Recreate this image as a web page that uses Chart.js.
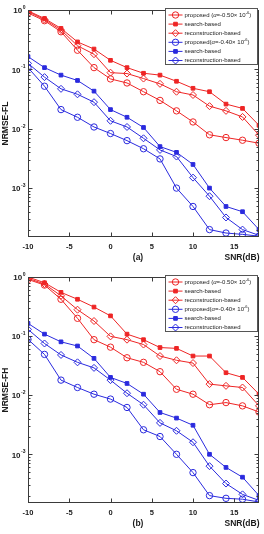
<!DOCTYPE html>
<html><head><meta charset="utf-8">
<script src="https://cdn.jsdelivr.net/npm/chart.js@4.4.0/dist/chart.umd.min.js"></script>
<style>
html,body{margin:0;padding:0;background:#fff;width:264px;height:534px;overflow:hidden}
canvas{position:absolute;left:0}
#c1{top:0}
#c2{top:267px}
</style></head><body>
<canvas id="c1" width="264" height="267"></canvas>
<canvas id="c2" width="264" height="266"></canvas>
<script>
// ---------- data ----------
const snr = [-10,-8,-6,-4,-2,0,2,4,6,8,10,12,14,16,18];
const xTickValues = [-10,-5,0,5,10,15];
const yDecades = [0,-1,-2,-3];

// (a) NRMSE-FL
const redProposedFL = [0.89,0.66,0.43,0.21,0.107,0.069,0.059,0.042,0.030,0.020,0.013,0.0079,0.0071,0.0064,0.0057];
const redSearchFL   = [0.97,0.72,0.49,0.29,0.22,0.142,0.107,0.086,0.080,0.063,0.048,0.042,0.026,0.022,0.0114];
const redReconFL    = [0.94,0.69,0.46,0.25,0.18,0.088,0.085,0.070,0.057,0.042,0.037,0.024,0.020,0.0158,0.0078];
const blueProposedFL = [0.107,0.052,0.021,0.0156,0.0107,0.0083,0.0063,0.0046,0.0031,0.0010,0.00049,0.00020,0.000175,0.000166,0.000155];
const blueSearchFL   = [0.164,0.107,0.080,0.065,0.043,0.021,0.0156,0.0105,0.0050,0.0040,0.0025,0.0010,0.00049,0.00040,0.00020];
const blueReconFL    = [0.126,0.074,0.047,0.038,0.028,0.0136,0.0107,0.0069,0.0044,0.0034,0.0015,0.00073,0.00032,0.00020,0.00016];

// (b) NRMSE-FH
const redProposedFH = [0.91,0.73,0.42,0.20,0.087,0.065,0.043,0.036,0.025,0.0126,0.0104,0.0069,0.0075,0.0066,0.0052];
const redSearchFH   = [1.0,0.80,0.55,0.42,0.31,0.22,0.108,0.087,0.064,0.062,0.046,0.046,0.024,0.020,0.0104];
const redReconFH    = [0.95,0.76,0.48,0.28,0.18,0.099,0.087,0.072,0.046,0.039,0.035,0.0154,0.0144,0.0135,0.0066];
const blueProposedFH = [0.088,0.049,0.018,0.0135,0.0104,0.0086,0.0062,0.0026,0.0020,0.0010,0.00049,0.00020,0.00018,0.000174,0.000156];
const blueSearchFH   = [0.164,0.108,0.080,0.068,0.042,0.020,0.0158,0.0104,0.0051,0.0041,0.0031,0.0010,0.00060,0.00041,0.00020];
const blueReconFH    = [0.13,0.075,0.048,0.036,0.029,0.018,0.0108,0.0069,0.0034,0.0025,0.0016,0.00063,0.00032,0.00021,0.000166];

const legendTexts = [
  ['proposed (', 'α', '=-0.50× 10', '-6', ')'],
  ['search-based'],
  ['reconstruction-based'],
  ['proposed(', 'α', '=-0.40× 10', '-6', ')'],
  ['search-based'],
  ['reconstruction-based']
];
const yTitles = ['NRMSE-FL', 'NRMSE-FH'];
const subTags = ['(a)', '(b)'];
const xTitle = 'SNR(dB)';

// ---------- styling ----------
const RED = '#ee2525';
const BLUE = '#2a2ade';
const FONT = '"Liberation Sans", Arial, sans-serif';
const markers = [
  {style:'circle', r:3.2, fill:false},
  {style:'rect', r:2.6, fill:true},
  {style:'rectRot', r:3.5, fill:false},
  {style:'circle', r:3.2, fill:false},
  {style:'rect', r:2.6, fill:true},
  {style:'rectRot', r:3.5, fill:false}
];

function makeDatasets(series) {
  return series.map((d, i) => {
    const col = i < 3 ? RED : BLUE;
    const m = markers[i];
    return {
      data: d,
      borderColor: col,
      backgroundColor: col,
      borderWidth: 1,
      pointStyle: m.style,
      pointRadius: m.r,
      pointBorderWidth: 1,
      pointBorderColor: col,
      pointBackgroundColor: m.fill ? col : 'rgba(0,0,0,0)',
      tension: 0,
      fill: false
    };
  });
}

function drawMarker(ctx, m, col, x, y) {
  ctx.save();
  ctx.strokeStyle = col; ctx.fillStyle = col; ctx.lineWidth = 1;
  ctx.beginPath();
  if (m.style === 'circle') {
    ctx.arc(x, y, m.r, 0, Math.PI*2);
  } else if (m.style === 'rect') {
    const s = Math.SQRT1_2 * m.r;
    ctx.rect(x - s, y - s, 2*s, 2*s);
  } else {
    ctx.moveTo(x, y - m.r); ctx.lineTo(x + m.r, y); ctx.lineTo(x, y + m.r); ctx.lineTo(x - m.r, y); ctx.closePath();
  }
  if (m.fill) ctx.fill();
  ctx.stroke();
  ctx.restore();
}

function decoPlugin(idx) {
  return {
    id: 'deco' + idx,
    afterDraw(chart) {
      const ctx = chart.ctx, a = chart.chartArea;
      const ys = chart.scales.y, xs = chart.scales.x;
      const L = Math.round(a.left) + 0.5, R = Math.round(a.right) - 0.5;
      const T = Math.round(a.top) + 0.5, B = Math.round(a.bottom) - 0.5;
      ctx.save();
      // frame and ticks
      ctx.strokeStyle = '#3a3a3a'; ctx.lineWidth = 1;
      ctx.strokeRect(L, T, R - L, B - T);
      ctx.beginPath();
      for (let e = -4; e <= 0; e++) {
        for (let m = 1; m < 10; m++) {
          const v = m * Math.pow(10, e);
          if (v < ys.min * 0.999 || v > ys.max * 1.001) continue;
          const y = Math.round(ys.getPixelForValue(v)) + 0.5;
          const len = m === 1 ? 4 : 2;
          ctx.moveTo(L, y); ctx.lineTo(L + len, y);
          ctx.moveTo(R, y); ctx.lineTo(R - len, y);
        }
      }
      for (const t of xTickValues) {
        const x = Math.round(xs.getPixelForValue(t)) + 0.5;
        ctx.moveTo(x, B); ctx.lineTo(x, B - 4);
        ctx.moveTo(x, T); ctx.lineTo(x, T + 4);
      }
      ctx.stroke();

      // y tick labels 10^k
      ctx.fillStyle = '#1a1a1a';
      for (const e of yDecades) {
        const y = ys.getPixelForValue(Math.pow(10, e));
        const sup = e === 0 ? '0' : '-' + (-e);
        ctx.font = 'bold 8px ' + FONT;
        const w10 = ctx.measureText('10').width;
        ctx.font = 'bold 5px ' + FONT;
        const ws = ctx.measureText(sup).width;
        const x0 = a.left - 3 - ws - w10;
        ctx.textBaseline = 'middle'; ctx.textAlign = 'left';
        ctx.font = 'bold 8px ' + FONT;
        ctx.fillText('10', x0, y + 1);
        ctx.font = 'bold 5px ' + FONT;
        ctx.fillText(sup, x0 + w10 + 0.5, y - 2.5);
      }

      // axis titles
      ctx.font = 'bold 8.5px ' + FONT;
      ctx.textAlign = 'center'; ctx.textBaseline = 'middle';
      ctx.save();
      ctx.translate(6, (a.top + a.bottom) / 2);
      ctx.rotate(-Math.PI / 2);
      ctx.fillText(yTitles[idx], 0, 0);
      ctx.restore();
      ctx.fillText(subTags[idx], 138, a.bottom + 21);
      ctx.fillText(xTitle, 242, a.bottom + 21);

      // legend
      const bw = 92, bh = 56;
      const bx = Math.round(a.right) - 2 - bw + 0.5, by = Math.round(a.top) - 1.5;
      ctx.fillStyle = '#fff';
      ctx.fillRect(bx, by, bw, bh);
      ctx.strokeStyle = '#555';
      ctx.strokeRect(bx, by, bw, bh);
      chart.data.datasets.forEach((ds, i) => {
        const yy = by + 6.5 + i * 9.1;
        ctx.strokeStyle = ds.borderColor; ctx.lineWidth = 1;
        ctx.beginPath(); ctx.moveTo(bx + 3, yy); ctx.lineTo(bx + 17, yy); ctx.stroke();
        drawMarker(ctx, markers[i], ds.borderColor, bx + 10, yy);
        // text
        const parts = legendTexts[i];
        let tx = bx + 19;
        ctx.fillStyle = '#222'; ctx.textAlign = 'left'; ctx.textBaseline = 'middle';
        parts.forEach((p, k) => {
          let f = '6px ' + FONT, dy = 0;
          if (parts.length > 1 && k === 1) f = 'italic 6px ' + FONT;
          if (parts.length > 1 && k === 3) { f = '4px ' + FONT; dy = -2.2; }
          ctx.font = f;
          ctx.fillText(p, tx, yy + dy);
          tx += ctx.measureText(p).width;
        });
      });
      ctx.restore();
    }
  };
}

function makeChart(id, series, idx) {
  new Chart(document.getElementById(id), {
    type: 'line',
    data: { labels: snr, datasets: makeDatasets(series) },
    options: {
      responsive: false,
      animation: false,
      devicePixelRatio: 1,
      layout: { padding: { top: 10, right: 4, left: 0, bottom: 0 } },
      plugins: { legend: { display: false }, tooltip: { enabled: false } },
      scales: {
        x: {
          type: 'linear', min: -10, max: 18,
          afterBuildTicks: (s) => { s.ticks = xTickValues.map(v => ({ value: v })); },
          ticks: { font: { size: 7.5, weight: 'bold', family: FONT }, color: '#1a1a1a', padding: 5, maxRotation: 0, autoSkip: false },
          grid: { display: false, drawTicks: false },
          border: { display: false },
          afterFit: (s) => { s.height = 30; }
        },
        y: {
          type: 'logarithmic', min: 1.5e-4, max: 1,
          ticks: { display: false },
          grid: { display: false, drawTicks: false },
          border: { display: false },
          afterFit: (s) => { s.width = 28; }
        }
      }
    },
    plugins: [decoPlugin(idx)]
  });
}

makeChart('c1', [redProposedFL, redSearchFL, redReconFL, blueProposedFL, blueSearchFL, blueReconFL], 0);
makeChart('c2', [redProposedFH, redSearchFH, redReconFH, blueProposedFH, blueSearchFH, blueReconFH], 1);
</script>
</body></html>
